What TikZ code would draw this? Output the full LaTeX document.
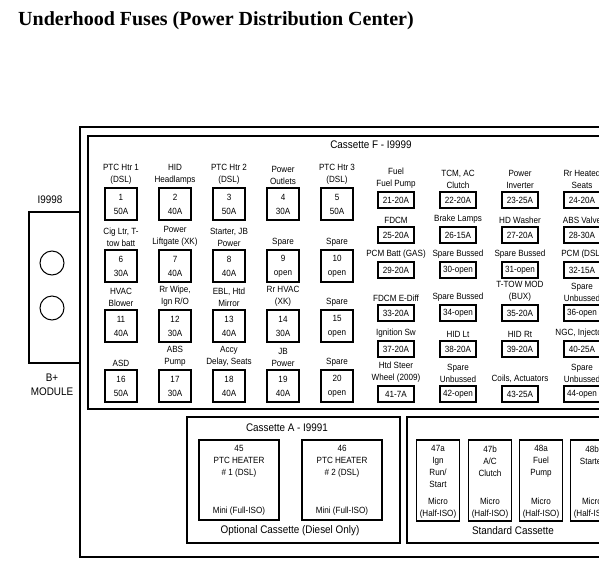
\documentclass[tikz,border=0pt]{standalone}
\usepackage{fontspec}
\setmainfont{Liberation Sans}[FakeStretch=0.9]
\newfontfamily\headfont{Liberation Serif}
\usetikzlibrary{positioning}

\begin{document}
\begin{tikzpicture}[x=1pt, y=-1pt,
    fuse/.style={draw, line width=1.1pt, minimum width=32pt, minimum height=32pt, inner sep=0pt, align=center, font=\fontsize{9}{14}\selectfont},
    slot/.style={draw, line width=1.1pt, minimum width=36pt, minimum height=16pt, inner sep=0pt, font=\fontsize{9}{11}\selectfont},
    isoslot/.style={draw, line width=1.1pt, minimum width=80pt, minimum height=80pt},
    microslot/.style={draw, line width=1.1pt, minimum width=43pt, minimum height=81pt},
    lbl/.style={inner sep=0pt, align=center, font=\fontsize{9}{12}\selectfont},
    frame/.style={line width=1.4pt},
    caption/.style={inner sep=0pt, align=center, font=\fontsize{11}{14}\selectfont}]
    \useasboundingbox (0,0) rectangle (599,565);
    \clip (0,0) rectangle (599,565);
    \node[anchor=west, inner sep=0pt, font=\headfont\bfseries\fontsize{20}{24}\selectfont] (title) at (18,21) {Underhood Fuses (Power Distribution Center)};
    % housing and cassette F
    \draw[frame] (620,127) -- (80,127) -- (80,557) -- (620,557);
    \draw[frame] (620,136) -- (88,136) -- (88,409) -- (620,409);
    \node[caption] (casF) at (371,145) {Cassette F - I9999};
    % B+ module
    \draw[frame] (80,212) -- (29,212) -- (29,363) -- (80,363);
    \node[caption] (bplus) at (50,200) {I9998};
    \node[draw, circle, line width=1pt, minimum size=24pt] (stud1) at (52,263) {};
    \node[draw, circle, line width=1pt, minimum size=24pt] (stud2) at (52,308) {};
    \node[caption] (module) at (52,385) {B+\\MODULE};
    % fuses 1-20
    \foreach \n/\amp/\lab in {1/50A/{PTC Htr 1\\(DSL)}, 2/40A/{HID\\Headlamps}, 3/50A/{PTC Htr 2\\(DSL)},
        4/30A/{Power\\Outlets}, 5/50A/{PTC Htr 3\\(DSL)}, 6/30A/{Cig Ltr, T-\\tow batt},
        7/40A/{Power\\Liftgate (XK)}, 8/40A/{Starter, JB\\Power}, 9/open/Spare, 10/open/Spare,
        11/40A/{HVAC\\Blower}, 12/30A/{Rr Wipe,\\Ign R/O}, 13/40A/{EBL, Htd\\Mirror},
        14/30A/{Rr HVAC\\(XK)}, 15/open/Spare, 16/50A/ASD, 17/30A/{ABS\\Pump},
        18/40A/{Accy\\Delay, Seats}, 19/40A/{JB\\Power}, 20/open/Spare} {
      \pgfmathsetmacro\cx{121+54*mod(\n-1,5)}
      \pgfmathsetmacro\cy{{204,266,326,386}[int((\n-1)/5)]}
      \node[fuse] (f\n) at (\cx,\cy) {\n\\\amp};
      \node[lbl, above=3pt of f\n] (l\n) {\lab};
    }
    % fuses 21-44
    \foreach \n/\amp/\lab in {21/20A/{Fuel\\Fuel Pump}, 22/20A/{TCM, AC\\Clutch}, 23/25A/{Power\\Inverter},
        24/20A/{Rr Heated\\Seats}, 25/20A/FDCM, 26/15A/Brake Lamps, 27/20A/HD Washer,
        28/30A/ABS Valve, 29/20A/PCM Batt (GAS), 30/open/Spare Bussed, 31/open/Spare Bussed,
        32/15A/PCM (DSL), 33/20A/FDCM E-Diff, 34/open/Spare Bussed, 35/20A/{T-TOW MOD\\(BUX)},
        36/open/{Spare\\Unbussed}, 37/20A/Ignition Sw, 38/20A/HID Lt, 39/20A/HID Rt,
        40/25A/{NGC, Injectors}, 41/7A/{Htd Steer\\Wheel (2009)}, 42/open/{Spare\\Unbussed},
        43/25A/{Coils, Actuators}, 44/open/{Spare\\Unbussed}} {
      \pgfmathsetmacro\cx{396+62*mod(\n-21,4)}
      \pgfmathsetmacro\cy{{200,235,270,313,349,394}[int((\n-21)/4)]}
      \node[slot] (f\n) at (\cx,\cy) {\n-\amp};
      \node[lbl, above=3pt of f\n] (l\n) {\lab};
    }
    % cassette A
    \draw[frame] (187,417) rectangle (400,543);
    \node[caption] (casA) at (287,428) {Cassette A - I9991};
    \node[caption] (optional) at (290,531) {Optional Cassette (Diesel Only)};
    \node[isoslot] (f45) at (239,480) {};
    \node[isoslot] (f46) at (342,480) {};
    \node[lbl, below=6pt of f45.north] (l45) {45\\PTC HEATER\\\# 1 (DSL)};
    \node[lbl, below=6pt of f46.north] (l46) {46\\PTC HEATER\\\# 2 (DSL)};
    \node[lbl, above=4.5pt of f45.south] (m45) {Mini (Full-ISO)};
    \node[lbl, above=4.5pt of f46.south] (m46) {Mini (Full-ISO)};
    % standard cassette
    \draw[frame] (620,417) -- (407,417) -- (407,543) -- (620,543);
    \node[caption] (standard) at (513,531) {Standard Cassette};
    \foreach \id/\cx/\lab in {47a/438/{Ign\\Run/\\Start}, 47b/490/{A/C\\Clutch}, 48a/541/{Fuel\\Pump}, 48b/592/Starter} {
      \node[microslot] (f\id) at (\cx,480.5) {};
      \node[lbl, below=6pt of f\id.north] (l\id) {\id\\\lab};
      \node[lbl, above=2.5pt of f\id.south] (m\id) {Micro\\(Half-ISO)};
    }
\end{tikzpicture}
\end{document}
